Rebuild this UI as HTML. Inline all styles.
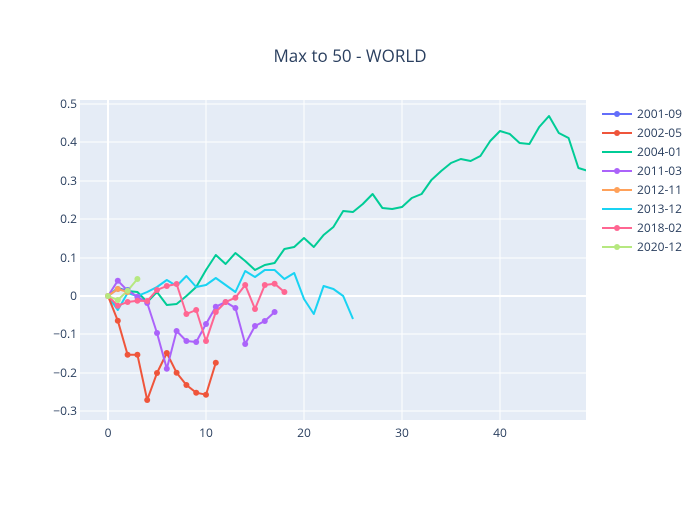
<!DOCTYPE html>
<html><head><meta charset="utf-8"><style>
body{margin:0;background:#fff}
svg{font-family:"Open Sans","Liberation Sans",sans-serif}
</style></head><body>
<svg width="700" height="500" xmlns="http://www.w3.org/2000/svg">
<rect width="700" height="500" fill="#fff"/>
<rect x="80" y="100" width="506" height="320" fill="#e5ecf6"/>
<g stroke="#fff" stroke-width="1">
<line x1="80" x2="586" y1="411" y2="411"/><line x1="80" x2="586" y1="373" y2="373"/><line x1="80" x2="586" y1="334" y2="334"/>
<line x1="80" x2="586" y1="258" y2="258"/><line x1="80" x2="586" y1="219" y2="219"/><line x1="80" x2="586" y1="181" y2="181"/>
<line x1="80" x2="586" y1="142" y2="142"/><line x1="80" x2="586" y1="104" y2="104"/>
<line y1="100" y2="420" x1="206" x2="206"/><line y1="100" y2="420" x1="304" x2="304"/><line y1="100" y2="420" x1="402" x2="402"/><line y1="100" y2="420" x1="500" x2="500"/>
</g>
<g stroke="#fff" stroke-width="2"><line x1="80" x2="586" y1="296" y2="296"/><line y1="100" y2="420" x1="108" x2="108"/></g>
<g font-size="12" fill="#2a3f5f" text-anchor="end">
<text x="77" y="108">0.5</text><text x="77" y="146">0.4</text><text x="77" y="185">0.3</text><text x="77" y="223">0.2</text><text x="77" y="262">0.1</text><text x="77" y="300">0</text><text x="77" y="338">−0.1</text><text x="77" y="377">−0.2</text><text x="77" y="415">−0.3</text>
</g>
<g font-size="12" fill="#2a3f5f" text-anchor="middle">
<text x="108" y="437">0</text><text x="206" y="437">10</text><text x="304" y="437">20</text><text x="402" y="437">30</text><text x="500" y="437">40</text>
</g>
<text x="350" y="62" font-size="17" fill="#2a3f5f" text-anchor="middle">Max to 50 - WORLD</text>
<defs><clipPath id="c"><rect x="80" y="100" width="506" height="320"/></clipPath></defs>
<g clip-path="url(#c)" fill="none" stroke-width="2" stroke-linejoin="round">
<polyline stroke="#00cc96" points="108,296 117.8,288 127.6,291 137.4,292 147.2,302 157,292 166.8,305 176.6,304 186.4,296 196.2,287 206,270 215.8,255 225.6,264 235.4,253 245.2,261 255,270 264.8,265 274.6,263 284.4,249 294.2,247 304,238 313.8,247 323.6,235 333.4,227 343.2,211 353,212 362.8,204 372.6,194 382.4,208 392.2,209 402,207 411.8,198 421.6,194 431.4,180 441.2,171 451,163 460.8,159 470.6,161 480.4,156 490.2,141 500,131 509.8,134 519.6,143 529.4,144 539.2,127 549,116 558.8,133 568.6,138 578.4,168 588.2,171"/>
<polyline stroke="#19d3f3" points="108,296 117.8,310 127.6,293 137.4,296 147.2,292 157,287 166.8,280 176.6,286 186.4,276 196.2,287 206,285 215.8,278 225.6,285 235.4,292 245.2,271 255,277 264.8,270 274.6,270 284.4,279 294.2,273 304,299 313.8,314 323.6,286 333.4,289 343.2,296 353,319"/>
<polyline stroke="#636efa" points="108,296 117.8,289 127.6,290 137.4,297"/>
<polyline stroke="#EF553B" points="108,296 117.8,320.7 127.6,354.7 137.4,354.7 147.2,400 157,373 166.8,353 176.6,372.7 186.4,385 196.2,392.7 206,394.7 215.8,362.7"/>
<polyline stroke="#ab63fa" points="108,296 117.8,280.7 127.6,290.7 137.4,296.7 147.2,303 157,333 166.8,368.7 176.6,331 186.4,341 196.2,342 206,324 215.8,306.7 225.6,302 235.4,308 245.2,344 255,326 264.8,321 274.6,312"/>
<polyline stroke="#FF6692" points="108,296 117.8,305.7 127.6,302 137.4,300.7 147.2,301 157,290 166.8,286 176.6,284 186.4,314 196.2,310 206,341 215.8,312 225.6,302 235.4,297.7 245.2,285 255,309 264.8,285 274.6,283.7 284.4,292"/>
<polyline stroke="#FFA15A" points="108,296 117.8,289 127.6,292"/>
<polyline stroke="#B6E880" points="108,296 117.8,300 127.6,290.7 137.4,279"/>
</g>
<g fill="#636efa"><circle cx="108" cy="296" r="3"/><circle cx="117.8" cy="289" r="3"/><circle cx="127.6" cy="290" r="3"/><circle cx="137.4" cy="297" r="3"/></g>
<g fill="#EF553B"><circle cx="108" cy="296" r="3"/><circle cx="117.8" cy="320.7" r="3"/><circle cx="127.6" cy="354.7" r="3"/><circle cx="137.4" cy="354.7" r="3"/><circle cx="147.2" cy="400" r="3"/><circle cx="157" cy="373" r="3"/><circle cx="166.8" cy="353" r="3"/><circle cx="176.6" cy="372.7" r="3"/><circle cx="186.4" cy="385" r="3"/><circle cx="196.2" cy="392.7" r="3"/><circle cx="206" cy="394.7" r="3"/><circle cx="215.8" cy="362.7" r="3"/></g>
<g fill="#ab63fa"><circle cx="108" cy="296" r="3"/><circle cx="117.8" cy="280.7" r="3"/><circle cx="127.6" cy="290.7" r="3"/><circle cx="137.4" cy="296.7" r="3"/><circle cx="147.2" cy="303" r="3"/><circle cx="157" cy="333" r="3"/><circle cx="166.8" cy="368.7" r="3"/><circle cx="176.6" cy="331" r="3"/><circle cx="186.4" cy="341" r="3"/><circle cx="196.2" cy="342" r="3"/><circle cx="206" cy="324" r="3"/><circle cx="215.8" cy="306.7" r="3"/><circle cx="225.6" cy="302" r="3"/><circle cx="235.4" cy="308" r="3"/><circle cx="245.2" cy="344" r="3"/><circle cx="255" cy="326" r="3"/><circle cx="264.8" cy="321" r="3"/><circle cx="274.6" cy="312" r="3"/></g>
<g fill="#FF6692"><circle cx="108" cy="296" r="3"/><circle cx="117.8" cy="305.7" r="3"/><circle cx="127.6" cy="302" r="3"/><circle cx="137.4" cy="300.7" r="3"/><circle cx="147.2" cy="301" r="3"/><circle cx="157" cy="290" r="3"/><circle cx="166.8" cy="286" r="3"/><circle cx="176.6" cy="284" r="3"/><circle cx="186.4" cy="314" r="3"/><circle cx="196.2" cy="310" r="3"/><circle cx="206" cy="341" r="3"/><circle cx="215.8" cy="312" r="3"/><circle cx="225.6" cy="302" r="3"/><circle cx="235.4" cy="297.7" r="3"/><circle cx="245.2" cy="285" r="3"/><circle cx="255" cy="309" r="3"/><circle cx="264.8" cy="285" r="3"/><circle cx="274.6" cy="283.7" r="3"/><circle cx="284.4" cy="292" r="3"/></g>
<g fill="#FFA15A"><circle cx="108" cy="296" r="3"/><circle cx="117.8" cy="289" r="3"/><circle cx="127.6" cy="292" r="3"/></g>
<g fill="#B6E880"><circle cx="108" cy="296" r="3"/><circle cx="117.8" cy="300" r="3"/><circle cx="127.6" cy="290.7" r="3"/><circle cx="137.4" cy="279" r="3"/></g>
<g stroke-width="2" font-size="12" fill="#2a3f5f">
<line x1="602" x2="632" y1="114" y2="114" stroke="#636efa"/><circle cx="617" cy="114" r="3" fill="#636efa"/><text x="637" y="118" stroke="none">2001-09</text>
<line x1="602" x2="632" y1="133" y2="133" stroke="#EF553B"/><circle cx="617" cy="133" r="3" fill="#EF553B"/><text x="637" y="137" stroke="none">2002-05</text>
<line x1="602" x2="632" y1="152" y2="152" stroke="#00cc96"/><text x="637" y="156" stroke="none">2004-01</text>
<line x1="602" x2="632" y1="171" y2="171" stroke="#ab63fa"/><circle cx="617" cy="171" r="3" fill="#ab63fa"/><text x="637" y="175" stroke="none">2011-03</text>
<line x1="602" x2="632" y1="190" y2="190" stroke="#FFA15A"/><circle cx="617" cy="190" r="3" fill="#FFA15A"/><text x="637" y="194" stroke="none">2012-11</text>
<line x1="602" x2="632" y1="209" y2="209" stroke="#19d3f3"/><text x="637" y="213" stroke="none">2013-12</text>
<line x1="602" x2="632" y1="228" y2="228" stroke="#FF6692"/><circle cx="617" cy="228" r="3" fill="#FF6692"/><text x="637" y="232" stroke="none">2018-02</text>
<line x1="602" x2="632" y1="247" y2="247" stroke="#B6E880"/><circle cx="617" cy="247" r="3" fill="#B6E880"/><text x="637" y="251" stroke="none">2020-12</text>
</g>
</svg>
</body></html>
